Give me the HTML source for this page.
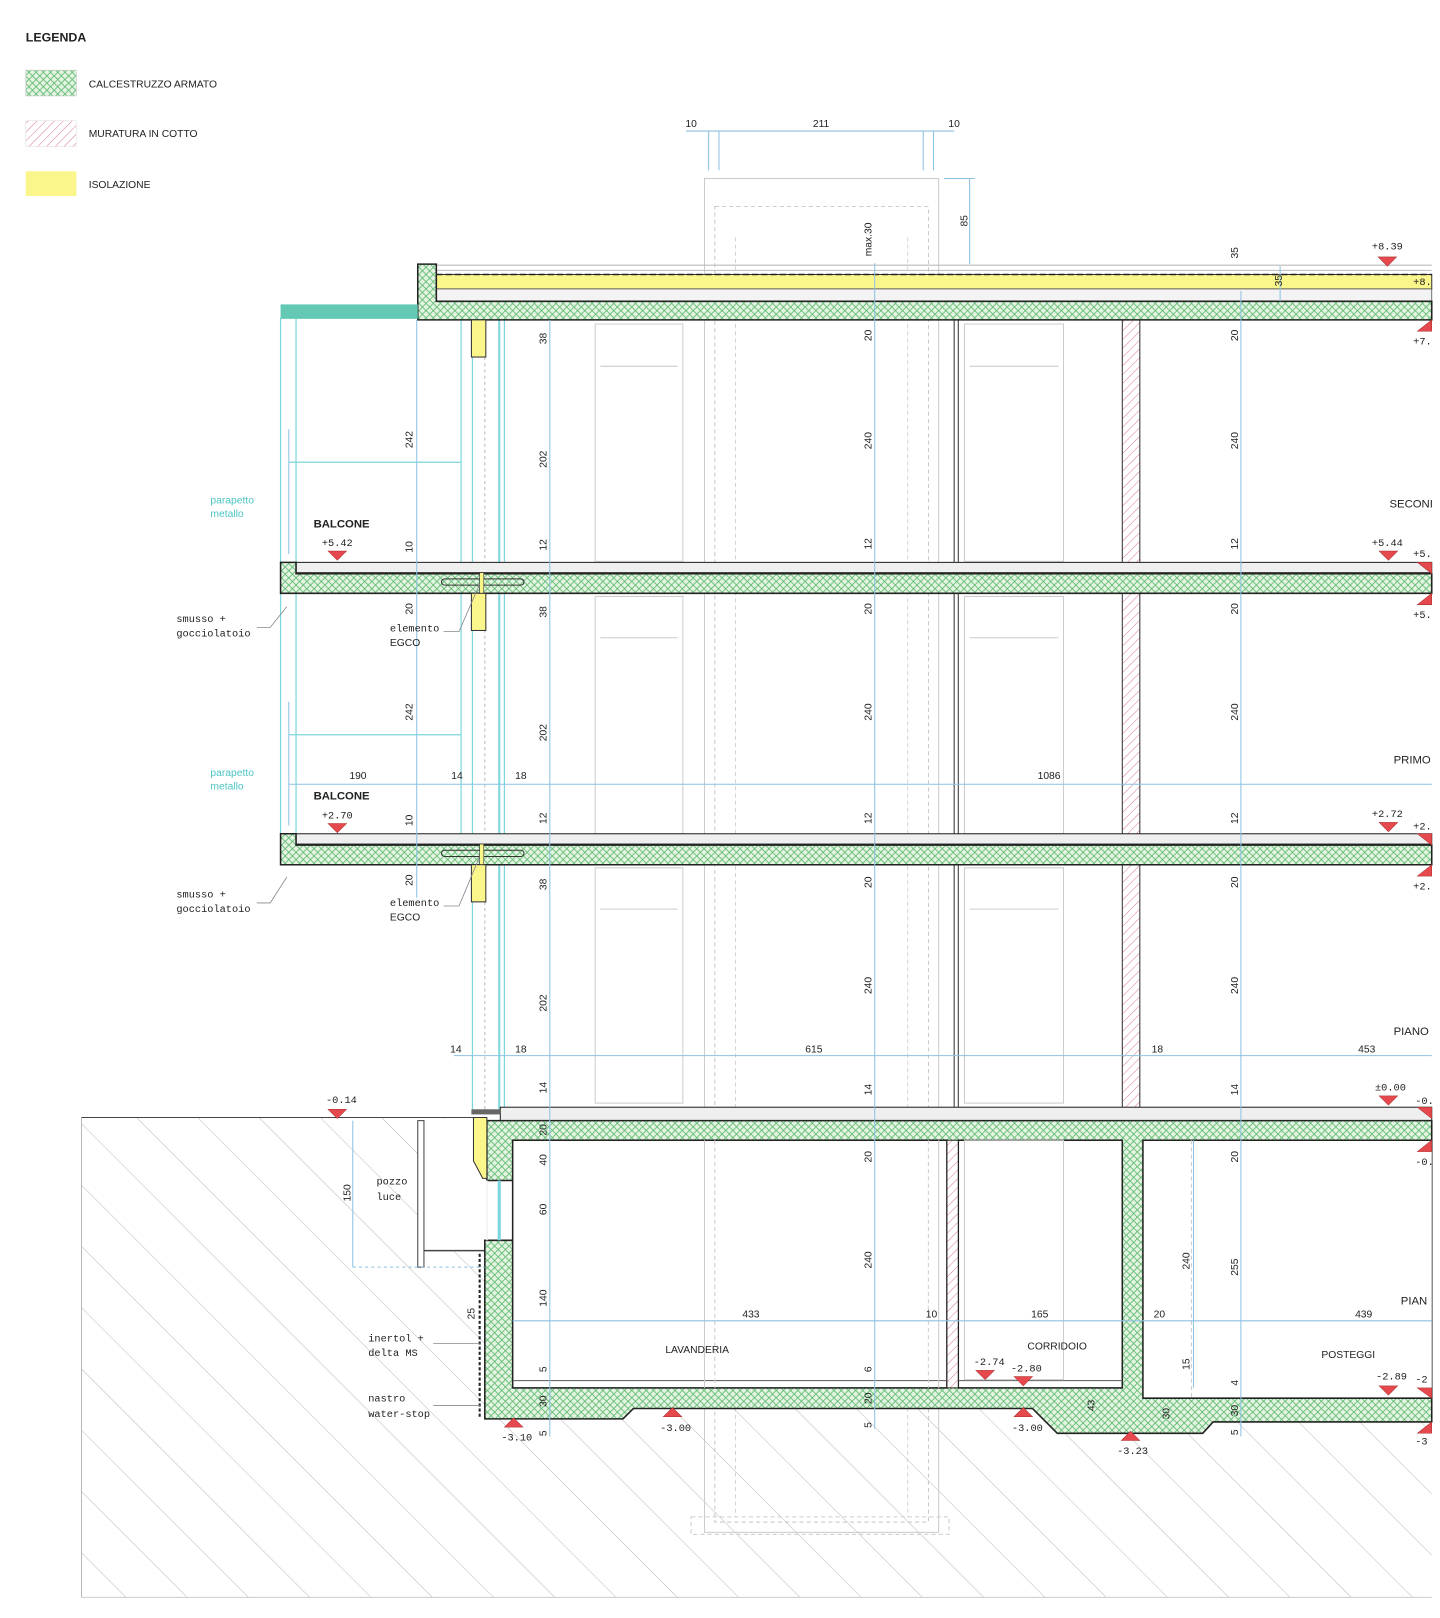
<!DOCTYPE html>
<html><head><meta charset="utf-8"><style>
html,body{margin:0;padding:0;background:#fff}
svg{display:block}
text{font-family:"Liberation Sans Narrow","Liberation Sans",sans-serif;fill:#222;font-size:10px}
.c{fill:#4cc4c4}
.d{font-family:"Liberation Mono",monospace;font-size:10px}
</style></head><body>
<svg width="1440" height="1618" viewBox="0 0 1396 1568" preserveAspectRatio="none" xmlns="http://www.w3.org/2000/svg">
<defs>
<pattern id="cx" width="7" height="7" patternUnits="userSpaceOnUse">
<rect width="7" height="7" fill="#e4f4e2"/>
<path d="M0 0L7 7M7 0L0 7" stroke="#5cb86e" stroke-width="0.8"/>
</pattern>
<pattern id="pk" width="6" height="6" patternUnits="userSpaceOnUse" patternTransform="rotate(45)">
<rect width="6" height="6" fill="#fff"/>
<line x1="0" y1="0" x2="0" y2="6" stroke="#d77a98" stroke-width="1"/>
</pattern>
<pattern id="gr" width="42" height="42" patternUnits="userSpaceOnUse" patternTransform="rotate(45)">
<rect width="42" height="42" fill="#fff"/>
<line x1="0" y1="0" x2="42" y2="0" stroke="#a0a0a0" stroke-width="0.8"/>
</pattern>
</defs>
<rect width="1396" height="1568" fill="#fff"/>

<!-- legend -->
<text x="25" y="40" style="font-size:12px;font-weight:bold">LEGENDA</text>
<rect x="25" y="68" width="49" height="25" fill="url(#cx)" stroke="#bbb" stroke-width="0.5"/>
<rect x="25" y="117" width="49" height="25" fill="url(#pk)" stroke="#ddd" stroke-width="0.5"/>
<rect x="25" y="166" width="49" height="24" fill="#fbf68c"/>
<text x="86" y="85">CALCESTRUZZO ARMATO</text>
<text x="86" y="133">MURATURA IN COTTO</text>
<text x="86" y="182">ISOLAZIONE</text>

<!-- ground -->
<rect x="79" y="1083" width="1309" height="465" fill="url(#gr)"/>
<line x1="79" y1="1083" x2="79" y2="1548" stroke="#aaa" stroke-width="0.8"/>
<line x1="79" y1="1548" x2="1388" y2="1548" stroke="#ccc" stroke-width="1"/>
<line x1="79" y1="1083" x2="470" y2="1083" stroke="#444" stroke-width="1"/>
<rect x="411" y="1084" width="61" height="128" fill="#fff"/>
<rect x="472" y="1084" width="916" height="280" fill="#fff"/>
<rect x="405" y="1086" width="6" height="142" fill="#fff" stroke="#444" stroke-width="1"/>
<line x1="411" y1="1212" x2="470" y2="1212" stroke="#444" stroke-width="1.5"/>
<line x1="465" y1="1215" x2="465" y2="1375" stroke="#222" stroke-width="2" stroke-dasharray="3,2"/>

<!-- lift shaft -->
<rect x="683" y="173" width="227" height="1312" fill="none" stroke="#ccc" stroke-width="1"/>
<rect x="693" y="200" width="207" height="1275" fill="none" stroke="#bbb" stroke-width="0.8" stroke-dasharray="4,3"/>
<line x1="713" y1="230" x2="713" y2="1470" stroke="#ccc" stroke-width="0.8" stroke-dasharray="4,3"/>
<line x1="880" y1="230" x2="880" y2="1470" stroke="#ccc" stroke-width="0.8" stroke-dasharray="4,3"/>
<rect x="670" y="1470" width="250" height="17" fill="none" stroke="#ccc" stroke-dasharray="4,3"/>

<!-- door frames -->
<g fill="none" stroke="#ccc" stroke-width="1">
<rect x="577" y="314" width="85" height="230"/><line x1="582" y1="355" x2="657" y2="355"/>
<rect x="577" y="578" width="85" height="230"/><line x1="582" y1="618" x2="657" y2="618"/>
<rect x="577" y="841" width="85" height="228"/><line x1="582" y1="881" x2="657" y2="881"/>
<rect x="935" y="314" width="96" height="230"/><line x1="940" y1="355" x2="1026" y2="355"/>
<rect x="935" y="578" width="96" height="230"/><line x1="940" y1="618" x2="1026" y2="618"/>
<rect x="935" y="841" width="96" height="228"/><line x1="940" y1="881" x2="1026" y2="881"/>
<rect x="935" y="1105" width="96" height="240"/><line x1="940" y1="1145" x2="1026" y2="1145"/>
</g>

<!-- walls -->
<rect x="925" y="310" width="4" height="776" fill="#fff" stroke="#333" stroke-width="1"/>
<rect x="1088" y="310" width="17" height="776" fill="url(#pk)" stroke="#333" stroke-width="1"/>

<!-- facade cyan lines -->
<g stroke="#7dd6dc" stroke-width="1.2" fill="none">
<line x1="272" y1="308" x2="272" y2="545"/><line x1="287" y1="308" x2="287" y2="545"/>
<line x1="272" y1="575" x2="272" y2="808"/><line x1="287" y1="575" x2="287" y2="808"/>
<line x1="280" y1="448" x2="447" y2="448"/><line x1="447" y1="310" x2="447" y2="545"/>
<line x1="280" y1="712" x2="447" y2="712"/><line x1="447" y1="575" x2="447" y2="808"/>
<line x1="458" y1="310" x2="458" y2="1075"/>
<line x1="484" y1="310" x2="484" y2="1075" stroke-width="2"/>
<line x1="489" y1="310" x2="489" y2="1075"/>
</g>
<line x1="470" y1="310" x2="470" y2="1075" stroke="#bbb" stroke-dasharray="3,3"/>
<text x="204" y="488" class="c">parapetto</text><text x="204" y="501" class="c">metallo</text>
<text x="204" y="752" class="c">parapetto</text><text x="204" y="765" class="c">metallo</text>

<!-- roof -->
<line x1="405" y1="257" x2="1388" y2="257" stroke="#bbb"/>
<line x1="423" y1="262" x2="1388" y2="262" stroke="#bbb"/>
<rect x="423" y="266" width="965" height="14" fill="#fbf68c" stroke="#333" stroke-width="1"/>
<line x1="423" y1="266" x2="1388" y2="266" stroke="#222" stroke-width="1.5" stroke-dasharray="6,3"/>
<rect x="423" y="280" width="965" height="12" fill="#f3f3f3" stroke="#555" stroke-width="0.8"/>
<path d="M405 256H423V292H1388V310H405Z" fill="url(#cx)" stroke="#222" stroke-width="1.5"/>
<rect x="272" y="295" width="133" height="14" fill="#63c9b5"/>
<rect x="457" y="310" width="14" height="36" fill="#fbf68c" stroke="#333"/>

<!-- balcony slabs -->
<g stroke="#222" stroke-width="1.5">
<rect x="287" y="545" width="1101" height="10" fill="#efefef" stroke-width="1"/>
<path d="M272 545H287V556H1388V575H272Z" fill="url(#cx)"/>
<rect x="287" y="808" width="1101" height="10" fill="#efefef" stroke-width="1"/>
<path d="M272 808H287V819H1388V838H272Z" fill="url(#cx)"/>
</g>
<g fill="none" stroke="#333" stroke-width="1">
<rect x="428" y="561" width="80" height="6" rx="3"/><rect x="428" y="824" width="80" height="6" rx="3"/>
</g>
<rect x="465" y="555" width="4" height="20" fill="#fbf68c" stroke="#333" stroke-width="0.6"/>
<rect x="465" y="818" width="4" height="20" fill="#fbf68c" stroke="#333" stroke-width="0.6"/>
<rect x="457" y="575" width="14" height="36" fill="#fbf68c" stroke="#333"/>
<rect x="457" y="838" width="14" height="36" fill="#fbf68c" stroke="#333"/>

<!-- ground floor + basement concrete -->
<rect x="485" y="1073" width="903" height="13" fill="#efefef" stroke="#222" stroke-width="1"/>
<rect x="457" y="1075" width="28" height="5" fill="#666"/>
<path d="M472 1086H1388V1378H1176L1166 1389H1025L1001 1365H614L604 1375H470V1202H472Z" fill="url(#cx)" stroke="#222" stroke-width="1.5"/>
<rect x="472.8" y="1144" width="24" height="58" fill="#fff"/>
<line x1="472" y1="1144" x2="497" y2="1144" stroke="#222" stroke-width="1.5"/>
<line x1="472" y1="1202" x2="497" y2="1202" stroke="#222" stroke-width="1.5"/>
<line x1="472" y1="1144" x2="472" y2="1202" stroke="#fff" stroke-width="1.6"/>
<line x1="484" y1="1144" x2="484" y2="1202" stroke="#7dd6dc" stroke-width="3"/>
<path d="M459 1083H472V1142L468 1142L459 1125Z" fill="#fbf68c" stroke="#333"/>
<g fill="#fff" stroke="#222" stroke-width="1.5">
<rect x="497" y="1105" width="421" height="240"/>
<rect x="929" y="1105" width="159" height="240"/>
<path d="M1388 1105H1108V1355H1388"/>
</g>
<rect x="918" y="1105" width="11" height="240" fill="url(#pk)" stroke="#222" stroke-width="1"/>
<line x1="498" y1="1338" x2="918" y2="1338" stroke="#555"/>
<line x1="929" y1="1338" x2="1088" y2="1338" stroke="#555"/>
<rect x="935" y="1105" width="96" height="232" fill="none" stroke="#ccc"/>
<line x1="1155" y1="1105" x2="1155" y2="1355" stroke="#ccc" stroke-dasharray="4,3"/>
<line x1="683" y1="1105" x2="683" y2="1345" stroke="#ccc"/>
<line x1="910" y1="1105" x2="910" y2="1345" stroke="#ccc"/>
<line x1="693" y1="1105" x2="693" y2="1345" stroke="#ccc" stroke-dasharray="4,3"/>
<line x1="900" y1="1105" x2="900" y2="1345" stroke="#ccc" stroke-dasharray="4,3"/>

<!-- dimension lines -->
<g stroke="#8cc2e2" stroke-width="1" fill="none">
<line x1="533" y1="310" x2="533" y2="1392"/>
<line x1="848" y1="255" x2="848" y2="1385"/>
<line x1="1203" y1="282" x2="1203" y2="1392"/>
<line x1="404" y1="310" x2="404" y2="870"/>
<line x1="342" y1="1086" x2="342" y2="1228"/><line x1="342" y1="1228" x2="470" y2="1228" stroke-dasharray="3,3"/>
<line x1="1157" y1="1105" x2="1157" y2="1345"/>
<line x1="940" y1="173" x2="940" y2="256"/><line x1="915" y1="173" x2="945" y2="173"/>
<line x1="665" y1="127" x2="925" y2="127"/>
<line x1="687" y1="127" x2="687" y2="165"/><line x1="697" y1="127" x2="697" y2="165"/>
<line x1="895" y1="127" x2="895" y2="165"/><line x1="905" y1="127" x2="905" y2="165"/>
<line x1="280" y1="760" x2="1388" y2="760"/>
<line x1="440" y1="1023" x2="1388" y2="1023"/>
<line x1="497" y1="1280" x2="1388" y2="1280"/>
<line x1="1241" y1="258" x2="1241" y2="292"/>
<line x1="280" y1="680" x2="280" y2="800"/><line x1="280" y1="416" x2="280" y2="537"/>
</g>

<!-- annotations -->
<g stroke="#888" stroke-width="0.8" fill="none">
<path d="M249 608L262 608L278 588"/><path d="M249 875L262 875L278 850"/>
<path d="M430 612L445 612L465 566"/><path d="M430 878L445 878L465 830"/>
<path d="M420 1302L465 1302"/><path d="M420 1362L465 1362"/>
</g>
<text x="304" y="511" style="font-size:11px;font-weight:bold">BALCONE</text>
<text x="312" y="529" class="d">+5.42</text>
<text x="304" y="775" style="font-size:11px;font-weight:bold">BALCONE</text>
<text x="312" y="793" class="d">+2.70</text>
<text x="171" y="603" class="d">smusso +</text><text x="171" y="617" class="d">gocciolatoio</text>
<text x="171" y="870" class="d">smusso +</text><text x="171" y="884" class="d">gocciolatoio</text>
<text x="378" y="612" class="d">elemento</text><text x="378" y="626">EGCO</text>
<text x="378" y="878" class="d">elemento</text><text x="378" y="892">EGCO</text>
<text x="316" y="1069" class="d">-0.14</text>
<text x="365" y="1148" class="d">pozzo</text><text x="365" y="1163" class="d">luce</text>
<text x="357" y="1300" class="d">inertol +</text><text x="357" y="1314" class="d">delta MS</text>
<text x="357" y="1358" class="d">nastro</text><text x="357" y="1373" class="d">water-stop</text>
<text x="645" y="1311">LAVANDERIA</text>
<text x="996" y="1308">CORRIDOIO</text>
<text x="1281" y="1316">POSTEGGI</text>
<text x="486" y="1396" class="d">-3.10</text>
<text x="640" y="1387" class="d">-3.00</text>
<text x="944" y="1323" class="d">-2.74</text>
<text x="980" y="1329" class="d">-2.80</text>
<text x="981" y="1387" class="d">-3.00</text>
<text x="1083" y="1409" class="d">-3.23</text>
<text x="1334" y="1337" class="d">-2.89</text>
<text x="1372" y="1340" class="d">-2</text>
<text x="1372" y="1400" class="d">-3</text>
<text x="1347" y="492" style="font-size:11px">SECONI</text>
<text x="1351" y="740" style="font-size:11px">PRIMO</text>
<text x="1351" y="1003" style="font-size:11px">PIANO</text>
<text x="1358" y="1264" style="font-size:11px">PIAN</text>
<text x="1330" y="242" class="d">+8.39</text><text x="1370" y="276" class="d">+8.</text><text x="1370" y="334" class="d">+7.</text>
<text x="1330" y="529" class="d">+5.44</text><text x="1370" y="540" class="d">+5.</text><text x="1370" y="599" class="d">+5.</text>
<text x="1330" y="792" class="d">+2.72</text><text x="1370" y="804" class="d">+2.</text><text x="1370" y="862" class="d">+2.</text>
<text x="1333" y="1057" class="d">±0.00</text><text x="1372" y="1070" class="d">-0.</text><text x="1372" y="1129" class="d">-0.</text>

<!-- horizontal dim labels -->
<g class="d" text-anchor="middle">
<text x="670" y="123">10</text><text x="796" y="123">211</text><text x="925" y="123">10</text>
<text x="347" y="755">190</text><text x="443" y="755">14</text><text x="505" y="755">18</text><text x="1017" y="755">1086</text>
<text x="442" y="1020">14</text><text x="505" y="1020">18</text><text x="789" y="1020">615</text><text x="1122" y="1020">18</text><text x="1325" y="1020">453</text>
<text x="728" y="1277">433</text><text x="903" y="1277">10</text><text x="1008" y="1277">165</text><text x="1124" y="1277">20</text><text x="1322" y="1277">439</text>
</g>

<!-- vertical dim labels -->
<g class="d" text-anchor="middle">
<text transform="translate(530,328) rotate(-90)">38</text>
<text transform="translate(530,445) rotate(-90)">202</text>
<text transform="translate(530,528) rotate(-90)">12</text>
<text transform="translate(530,593) rotate(-90)">38</text>
<text transform="translate(530,710) rotate(-90)">202</text>
<text transform="translate(530,793) rotate(-90)">12</text>
<text transform="translate(530,857) rotate(-90)">38</text>
<text transform="translate(530,972) rotate(-90)">202</text>
<text transform="translate(530,1054) rotate(-90)">14</text>
<text transform="translate(530,1095) rotate(-90)">20</text>
<text transform="translate(530,1124) rotate(-90)">40</text>
<text transform="translate(530,1172) rotate(-90)">60</text>
<text transform="translate(530,1258) rotate(-90)">140</text>
<text transform="translate(530,1327) rotate(-90)">5</text>
<text transform="translate(530,1358) rotate(-90)">30</text>
<text transform="translate(530,1389) rotate(-90)">5</text>
<text transform="translate(845,232) rotate(-90)">max.30</text>
<text transform="translate(845,325) rotate(-90)">20</text>
<text transform="translate(845,427) rotate(-90)">240</text>
<text transform="translate(845,527) rotate(-90)">12</text>
<text transform="translate(845,590) rotate(-90)">20</text>
<text transform="translate(845,690) rotate(-90)">240</text>
<text transform="translate(845,793) rotate(-90)">12</text>
<text transform="translate(845,855) rotate(-90)">20</text>
<text transform="translate(845,955) rotate(-90)">240</text>
<text transform="translate(845,1056) rotate(-90)">14</text>
<text transform="translate(845,1121) rotate(-90)">20</text>
<text transform="translate(845,1221) rotate(-90)">240</text>
<text transform="translate(845,1327) rotate(-90)">6</text>
<text transform="translate(845,1355) rotate(-90)">20</text>
<text transform="translate(845,1381) rotate(-90)">5</text>
<text transform="translate(1200,245) rotate(-90)">35</text>
<text transform="translate(1200,325) rotate(-90)">20</text>
<text transform="translate(1200,427) rotate(-90)">240</text>
<text transform="translate(1200,527) rotate(-90)">12</text>
<text transform="translate(1200,590) rotate(-90)">20</text>
<text transform="translate(1200,690) rotate(-90)">240</text>
<text transform="translate(1200,793) rotate(-90)">12</text>
<text transform="translate(1200,855) rotate(-90)">20</text>
<text transform="translate(1200,955) rotate(-90)">240</text>
<text transform="translate(1200,1056) rotate(-90)">14</text>
<text transform="translate(1200,1121) rotate(-90)">20</text>
<text transform="translate(1200,1228) rotate(-90)">255</text>
<text transform="translate(1200,1340) rotate(-90)">4</text>
<text transform="translate(1200,1367) rotate(-90)">30</text>
<text transform="translate(1200,1388) rotate(-90)">5</text>
<text transform="translate(1153,1222) rotate(-90)">240</text>
<text transform="translate(1153,1322) rotate(-90)">15</text>
<text transform="translate(400,426) rotate(-90)">242</text>
<text transform="translate(400,530) rotate(-90)">10</text>
<text transform="translate(400,590) rotate(-90)">20</text>
<text transform="translate(400,690) rotate(-90)">242</text>
<text transform="translate(400,795) rotate(-90)">10</text>
<text transform="translate(400,853) rotate(-90)">20</text>
<text transform="translate(340,1156) rotate(-90)">150</text>
<text transform="translate(938,214) rotate(-90)">85</text>
<text transform="translate(1243,272) rotate(-90)">35</text>
<text transform="translate(1061,1362) rotate(-90)">43</text>
<text transform="translate(1134,1370) rotate(-90)">30</text>
<text transform="translate(460,1273) rotate(-90)">25</text>
</g>

<!-- level triangles -->
<g fill="#e5484d" stroke="#a33" stroke-width="0.5">
<path d="M318 534H336L327 543Z"/><path d="M318 798H336L327 807Z"/><path d="M318 1075H336L327 1084Z"/>
<path d="M1336 249H1354L1345 258Z"/><path d="M1337 534H1355L1346 543Z"/><path d="M1337 797H1355L1346 806Z"/>
<path d="M1337 1062H1355L1346 1071Z"/><path d="M1337 1343H1355L1346 1352Z"/>
<path d="M946 1328H964L955 1337Z"/><path d="M983 1334H1001L992 1343Z"/>
<path d="M489 1383H507L498 1374Z"/><path d="M643 1373H661L652 1364Z"/><path d="M983 1373H1001L992 1364Z"/><path d="M1087 1396H1105L1096 1387Z"/>
<path d="M1374 545H1388V556Z"/><path d="M1374 586H1388V575Z"/>
<path d="M1374 808H1388V819Z"/><path d="M1374 849H1388V838Z"/>
<path d="M1374 1073H1388V1084Z"/><path d="M1374 1116H1388V1105Z"/>
<path d="M1374 321H1388V310Z"/><path d="M1374 1345H1388V1355Z"/><path d="M1374 1389H1388V1378Z"/>
</g>
</svg>
</body></html>
